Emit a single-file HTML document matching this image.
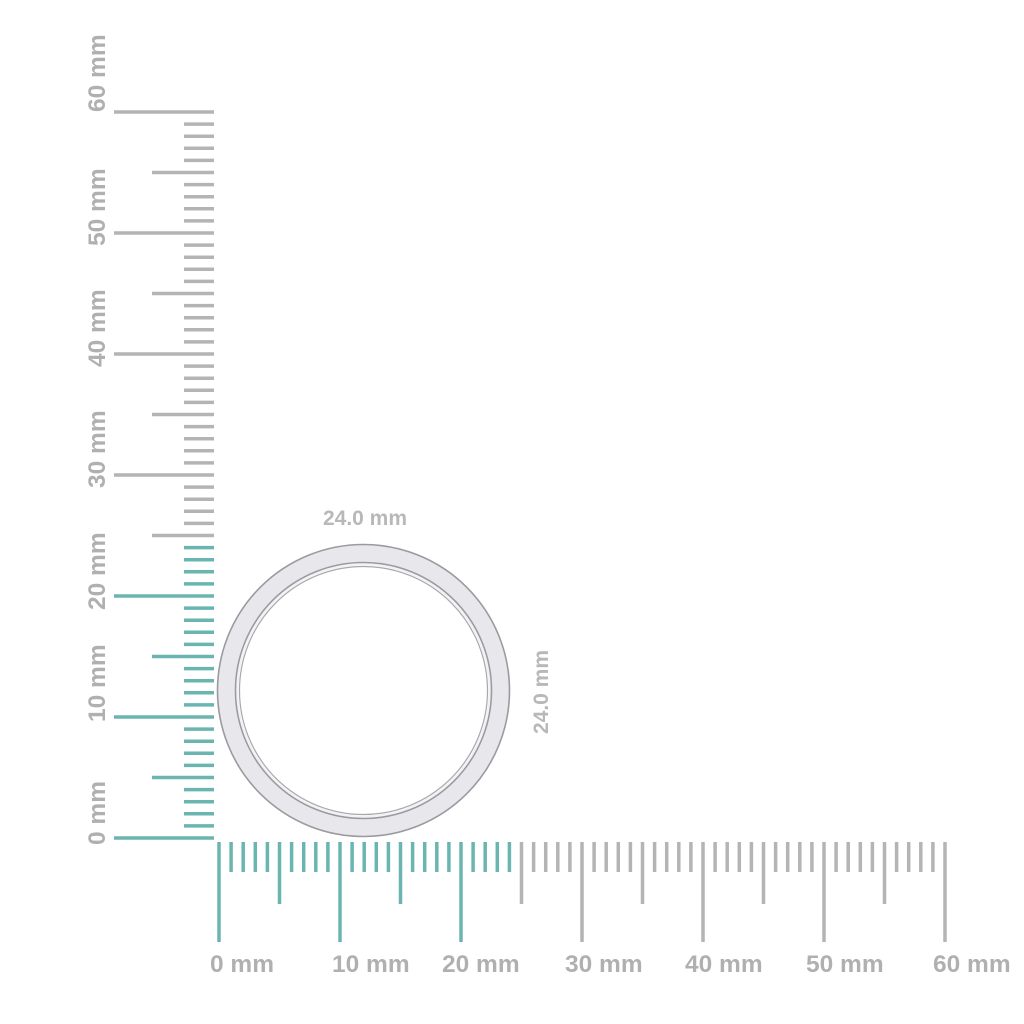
<!DOCTYPE html>
<html><head><style>html,body{margin:0;padding:0;background:#fff;}svg{display:block}</style></head>
<body>
<svg width="1024" height="1024" viewBox="0 0 1024 1024" xmlns="http://www.w3.org/2000/svg" font-family="Liberation Sans, sans-serif" font-weight="bold">
<g id="h"></g><g id="v"></g>
<circle cx="363.5" cy="690.5" r="137" fill="none" stroke="#e8e8ec" stroke-width="18"/>
<circle cx="363.5" cy="690.5" r="146" fill="none" stroke="#9a9aa0" stroke-width="1.6"/>
<circle cx="363.5" cy="690.5" r="128" fill="none" stroke="#9a9aa0" stroke-width="1.6"/>
<circle cx="363.5" cy="690.5" r="124" fill="none" stroke="#a8a8ae" stroke-width="1.2"/>
<circle cx="363.5" cy="690.5" r="126" fill="none" stroke="#f2f2f4" stroke-width="2"/>
<text x="365" y="525" font-size="21" fill="#b8b8b8" text-anchor="middle">24.0 mm</text>
<text transform="translate(548,692) rotate(-90)" font-size="21" fill="#b8b8b8" text-anchor="middle">24.0 mm</text>
<g font-size="24.5" fill="#b0b0b0">
<text x="210" y="972">0 mm</text><text x="332" y="972">10 mm</text><text x="442" y="972">20 mm</text>
<text x="565" y="972">30 mm</text><text x="685" y="972">40 mm</text><text x="806" y="972">50 mm</text><text x="933" y="972">60 mm</text>
<text transform="translate(105,845) rotate(-90)">0 mm</text>
<text transform="translate(105,722) rotate(-90)">10 mm</text>
<text transform="translate(105,610) rotate(-90)">20 mm</text>
<text transform="translate(105,488) rotate(-90)">30 mm</text>
<text transform="translate(105,367) rotate(-90)">40 mm</text>
<text transform="translate(105,246) rotate(-90)">50 mm</text>
<text transform="translate(105,112) rotate(-90)">60 mm</text>
</g>
<script>
var ns="http://www.w3.org/2000/svg",h=document.getElementById('h'),v=document.getElementById('v');
for(var i=0;i<=60;i++){
 var c=i<=24?'#6ab5b0':'#b4b4b4';
 var x=219+i*12.1, y=838-i*12.1;
 var L=document.createElementNS(ns,'line');
 var e=i%10==0?942:(i%5==0?904:872);
 L.setAttribute('x1',x);L.setAttribute('x2',x);L.setAttribute('y1',842);L.setAttribute('y2',e);
 L.setAttribute('stroke',c);L.setAttribute('stroke-width',3.5);h.appendChild(L);
 var M=document.createElementNS(ns,'line');
 var s=i%10==0?114:(i%5==0?152:184);
 M.setAttribute('y1',y);M.setAttribute('y2',y);M.setAttribute('x1',s);M.setAttribute('x2',214);
 M.setAttribute('stroke',c);M.setAttribute('stroke-width',3.5);v.appendChild(M);
}
</script>
</svg>
</body></html>
